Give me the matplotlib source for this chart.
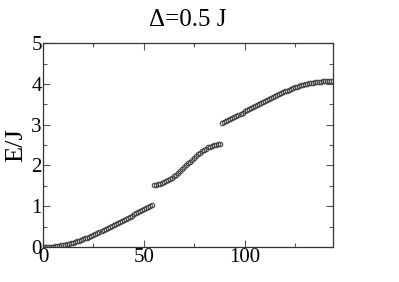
import numpy as np
import matplotlib
matplotlib.use('Agg')
import matplotlib.pyplot as plt
from matplotlib.ticker import MultipleLocator

# lowest band
band1 = [0.000, 0.001, 0.002, 0.004, 0.008, 0.012, 0.017, 0.024, 0.031, 0.039,
         0.048, 0.058, 0.069, 0.081, 0.094, 0.108, 0.123, 0.139, 0.156, 0.173,
         0.192, 0.212, 0.232, 0.253, 0.275, 0.298, 0.321, 0.345, 0.369, 0.393,
         0.418, 0.443, 0.468, 0.493, 0.518, 0.543, 0.568, 0.593, 0.618, 0.643,
         0.668, 0.694, 0.720, 0.746, 0.772, 0.798, 0.824, 0.850, 0.876, 0.902,
         0.928, 0.953, 0.977, 1.000, 1.022]
# middle band
band2 = [1.530, 1.532, 1.539, 1.550, 1.565, 1.585, 1.609, 1.636, 1.667, 1.701,
         1.738, 1.778, 1.819, 1.863, 1.908, 1.955, 2.001, 2.049, 2.095, 2.142,
         2.187, 2.231, 2.273, 2.312, 2.349, 2.383, 2.414, 2.441, 2.465, 2.485,
         2.500, 2.511, 2.518, 2.520]
# upper band
band3 = [3.048, 3.070, 3.093, 3.117, 3.142, 3.168, 3.194, 3.220, 3.246, 3.272,
         3.298, 3.324, 3.350, 3.376, 3.402, 3.427, 3.452, 3.477, 3.502, 3.527,
         3.552, 3.577, 3.602, 3.627, 3.652, 3.677, 3.701, 3.725, 3.749, 3.772,
         3.795, 3.817, 3.838, 3.858, 3.878, 3.897, 3.914, 3.931, 3.947, 3.962,
         3.976, 3.989, 4.001, 4.012, 4.022, 4.031, 4.039, 4.046, 4.053, 4.058,
         4.062, 4.066, 4.068, 4.069, 4.070]

energy = np.array(band1 + band2 + band3)
index = np.arange(len(energy))

plt.rcParams['font.family'] = ['Liberation Serif', 'DejaVu Serif']

fig = plt.figure(figsize=(3.99, 2.82), dpi=100)
ax = fig.add_axes([0.108, 0.124, 0.727, 0.723])
ax.plot(index, energy, 'o', mfc='none', mec='#444444', ms=3.2, mew=0.8)

ax.set_xlim(0, 144)
ax.set_ylim(0, 5)
ax.xaxis.set_major_locator(MultipleLocator(50))
ax.xaxis.set_minor_locator(MultipleLocator(25))
ax.yaxis.set_major_locator(MultipleLocator(1))
ax.yaxis.set_minor_locator(MultipleLocator(0.5))
ax.tick_params(which='both', direction='in', top=True, right=True,
               labelsize=15, pad=1, width=0.8, color='#555555')
ax.tick_params(which='major', length=5)
ax.tick_params(which='minor', length=3)
for s in ax.spines.values():
    s.set_linewidth(0.9)
    s.set_color('#333333')

ax.set_ylabel('E/J', fontsize=19, labelpad=3)
ax.set_title('\u0394=0.5 J', fontsize=18, pad=12)

fig.savefig('out.png', dpi=100)
